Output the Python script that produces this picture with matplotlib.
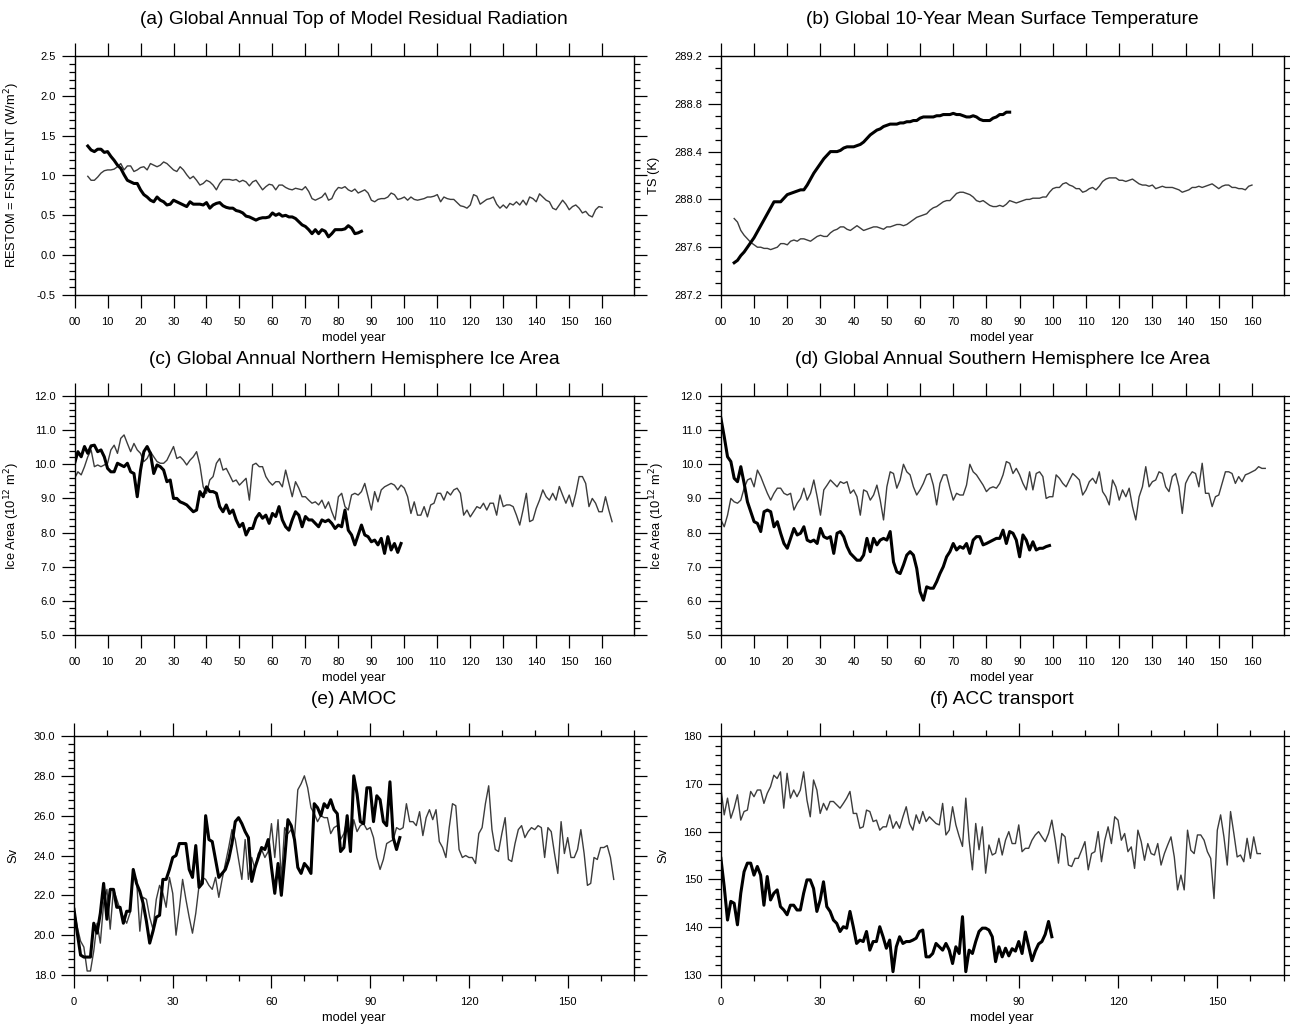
import numpy as np
import matplotlib
matplotlib.use('Agg')
import matplotlib.pyplot as plt
from matplotlib.ticker import MultipleLocator, FixedLocator, FormatStrFormatter

plt.rcParams['font.family'] = ['Liberation Sans', 'DejaVu Sans']

# ---- (a) top of model residual radiation, years 4..87 / 4..160
a_start = 4
a_thick = [1.37, 1.32, 1.30, 1.33, 1.33, 1.29,
           1.30, 1.24, 1.19, 1.13, 1.09, 1.01, 0.94, 0.92, 0.90, 0.90,
           0.82, 0.76, 0.73, 0.69, 0.67, 0.73, 0.69, 0.67, 0.63, 0.64,
           0.69, 0.67, 0.65, 0.63, 0.61, 0.67, 0.64, 0.64, 0.64, 0.63,
           0.66, 0.59, 0.63, 0.65, 0.66, 0.62, 0.60, 0.59, 0.59, 0.56,
           0.55, 0.53, 0.49, 0.48, 0.46, 0.44, 0.46, 0.47, 0.47, 0.48,
           0.53, 0.50, 0.52, 0.49, 0.50, 0.48, 0.48, 0.46, 0.42, 0.38,
           0.36, 0.32, 0.27, 0.32, 0.27, 0.32, 0.30, 0.23, 0.27, 0.32,
           0.32, 0.32, 0.33, 0.37, 0.34, 0.27, 0.28, 0.30]
a_thin = [0.99, 0.94, 0.94, 0.98, 1.03, 1.06,
          1.07, 1.07, 1.08, 1.11, 1.15, 1.07, 1.12, 1.12, 1.05, 1.07,
          1.10, 1.11, 1.07, 1.15, 1.13, 1.11, 1.13, 1.17, 1.15, 1.11,
          1.07, 1.05, 1.11, 1.07, 1.01, 0.96, 0.99, 0.94, 0.88, 0.90,
          0.94, 0.92, 0.88, 0.82, 0.90, 0.95, 0.95, 0.95, 0.94, 0.95,
          0.92, 0.94, 0.92, 0.87, 0.92, 0.94, 0.88, 0.82, 0.86, 0.89,
          0.88, 0.82, 0.88, 0.88, 0.85, 0.83, 0.82, 0.84, 0.83, 0.82,
          0.86, 0.80, 0.71, 0.69, 0.71, 0.73, 0.78, 0.69, 0.71, 0.80,
          0.85, 0.84, 0.86, 0.82, 0.80, 0.83, 0.78, 0.80, 0.82, 0.78,
          0.69, 0.67, 0.70, 0.71, 0.71, 0.73, 0.78, 0.76, 0.70, 0.71,
          0.73, 0.69, 0.73, 0.70, 0.69, 0.70, 0.71, 0.73, 0.73, 0.74,
          0.76, 0.67, 0.73, 0.71, 0.70, 0.70, 0.66, 0.62, 0.61, 0.59,
          0.63, 0.76, 0.74, 0.64, 0.67, 0.70, 0.71, 0.73, 0.64, 0.59,
          0.63, 0.59, 0.65, 0.63, 0.67, 0.63, 0.69, 0.63, 0.73, 0.71,
          0.67, 0.77, 0.73, 0.69, 0.67, 0.59, 0.57, 0.63, 0.69, 0.64,
          0.57, 0.61, 0.63, 0.59, 0.53, 0.55, 0.50, 0.48, 0.57, 0.61, 0.60]

# ---- (b) 10-year mean surface temperature
b_start = 4
b_thick = [287.47, 287.49, 287.53, 287.56, 287.60, 287.64,
           287.68, 287.73, 287.78, 287.83, 287.88, 287.93, 287.98, 287.98, 287.98, 288.01,
           288.04, 288.05, 288.06, 288.07, 288.08, 288.08, 288.12, 288.17, 288.22, 288.26,
           288.30, 288.34, 288.37, 288.40, 288.40, 288.40, 288.41, 288.43, 288.44, 288.44,
           288.44, 288.45, 288.46, 288.48, 288.51, 288.54, 288.56, 288.58, 288.59, 288.61,
           288.62, 288.63, 288.63, 288.63, 288.64, 288.64, 288.65, 288.65, 288.66, 288.66,
           288.68, 288.69, 288.69, 288.69, 288.69, 288.70, 288.70, 288.71, 288.71, 288.71,
           288.72, 288.71, 288.71, 288.70, 288.69, 288.69, 288.70, 288.69, 288.67, 288.66,
           288.66, 288.66, 288.68, 288.69, 288.71, 288.71, 288.73, 288.73]
b_thin = [287.84, 287.81, 287.74, 287.70, 287.67, 287.64,
          287.62, 287.60, 287.60, 287.59, 287.59, 287.58, 287.59, 287.60, 287.63, 287.63,
          287.62, 287.65, 287.66, 287.65, 287.67, 287.67, 287.66, 287.65, 287.67, 287.69,
          287.70, 287.69, 287.69, 287.72, 287.74, 287.75, 287.77, 287.77, 287.75, 287.74,
          287.76, 287.78, 287.76, 287.74, 287.75, 287.76, 287.77, 287.77, 287.76, 287.75,
          287.77, 287.77, 287.78, 287.79, 287.79, 287.78, 287.79, 287.81, 287.83, 287.85,
          287.86, 287.87, 287.88, 287.91, 287.93, 287.94, 287.96, 287.98, 287.99, 287.99,
          288.02, 288.05, 288.06, 288.06, 288.05, 288.04, 288.02, 287.99, 287.98, 287.99,
          287.97, 287.95, 287.94, 287.94, 287.95, 287.94, 287.96, 287.99, 287.98, 287.97,
          287.98, 287.99, 288.00, 288.00, 288.01, 288.01, 288.01, 288.02, 288.02, 288.06,
          288.09, 288.10, 288.10, 288.13, 288.14, 288.12, 288.11, 288.09, 288.09, 288.06,
          288.07, 288.09, 288.10, 288.08, 288.11, 288.15, 288.17, 288.18, 288.18, 288.18,
          288.16, 288.16, 288.15, 288.16, 288.17, 288.15, 288.13, 288.12, 288.12, 288.11,
          288.12, 288.09, 288.10, 288.11, 288.10, 288.10, 288.10, 288.09, 288.08, 288.06,
          288.07, 288.08, 288.10, 288.10, 288.11, 288.10, 288.11, 288.12, 288.13, 288.11,
          288.09, 288.11, 288.12, 288.12, 288.10, 288.10, 288.09, 288.09, 288.08, 288.11, 288.12]

# ---- (c) NH ice area
c_thick = [10.03, 10.37, 10.22, 10.52, 10.32, 10.54, 10.56, 10.37, 10.42, 10.22,
           9.88, 9.78, 9.78, 10.03, 9.98, 9.93, 10.03, 9.78, 9.73, 9.05,
           9.83, 10.37, 10.52, 10.32, 9.73, 9.98, 9.93, 9.83, 9.49, 9.54,
           9.00, 9.00, 8.90, 8.86, 8.81, 8.71, 8.61, 8.66, 9.20, 9.05,
           9.34, 9.20, 9.20, 9.15, 8.76, 8.61, 8.81, 8.56, 8.66, 8.37,
           8.17, 8.27, 7.93, 8.12, 8.12, 8.42, 8.56, 8.42, 8.51, 8.27,
           8.56, 8.47, 8.76, 8.37, 8.17, 8.07, 8.37, 8.61, 8.51, 8.17,
           8.47, 8.37, 8.37, 8.27, 8.17, 8.37, 8.32, 8.37, 8.27, 8.12,
           8.22, 8.17, 8.66, 8.07, 7.93, 7.64, 7.93, 8.22, 7.93, 7.88,
           7.73, 7.78, 7.64, 7.83, 7.39, 7.88, 7.49, 7.68, 7.42, 7.68]
c_thin = [9.59, 9.78, 9.69, 9.93, 10.22, 10.42, 9.93, 9.98, 9.93, 9.98,
          10.03, 10.42, 10.56, 10.32, 10.76, 10.86, 10.61, 10.37, 10.61, 10.42,
          10.32, 10.08, 10.17, 10.37, 10.22, 10.08, 10.03, 10.03, 10.12, 10.32,
          10.52, 10.17, 10.22, 10.12, 9.98, 10.12, 10.22, 10.37, 9.98, 9.34,
          9.15, 9.54, 9.64, 10.03, 10.17, 9.83, 9.88, 9.69, 9.49, 9.54,
          9.39, 9.49, 9.59, 8.95, 9.98, 10.03, 9.93, 9.93, 9.64, 9.49,
          9.39, 9.49, 9.49, 9.34, 9.83, 9.44, 9.05, 9.49, 9.30, 9.05,
          9.05, 8.95, 8.86, 8.90, 8.81, 8.95, 8.71, 8.90, 8.61, 8.37,
          9.05, 9.15, 8.76, 8.66, 9.10, 9.15, 9.10, 9.20, 9.44, 9.05,
          8.66, 9.20, 8.90, 9.25, 9.34, 9.39, 9.44, 9.39, 9.25, 9.39,
          9.30, 9.05, 8.56, 8.90, 8.51, 8.51, 8.76, 8.46, 8.81, 8.86,
          9.15, 9.15, 8.95, 9.20, 9.10, 9.25, 9.30, 9.15, 8.51, 8.66,
          8.46, 8.61, 8.76, 8.71, 8.86, 8.66, 8.86, 8.86, 8.51, 9.10,
          8.76, 8.81, 8.81, 8.76, 8.51, 8.22, 8.66, 9.15, 8.32, 8.37,
          8.71, 8.95, 9.25, 9.05, 8.95, 9.15, 8.95, 9.35, 9.10, 8.86,
          9.10, 8.76, 9.15, 9.64, 9.64, 9.44, 8.76, 9.00, 8.86, 8.61,
          8.61, 9.05, 8.66, 8.32]

# ---- (d) SH ice area
d_thick = [11.35, 10.81, 10.22, 10.08, 9.59, 9.49, 9.93, 9.44, 8.90, 8.61,
           8.32, 8.27, 8.03, 8.61, 8.66, 8.61, 8.17, 8.32, 7.98, 7.68,
           7.54, 7.83, 8.12, 7.93, 7.98, 8.17, 7.78, 7.73, 7.78, 7.68,
           8.12, 7.88, 7.83, 7.88, 7.39, 7.98, 8.03, 7.88, 7.59, 7.39,
           7.29, 7.19, 7.19, 7.34, 7.83, 7.44, 7.83, 7.64, 7.78, 7.83,
           7.78, 8.03, 7.14, 6.85, 6.80, 7.05, 7.34, 7.44, 7.34, 6.95,
           6.27, 6.02, 6.41, 6.37, 6.37, 6.56, 6.80, 7.00, 7.29, 7.44,
           7.68, 7.49, 7.59, 7.54, 7.68, 7.39, 7.78, 7.88, 7.88, 7.64,
           7.68, 7.73, 7.78, 7.83, 7.83, 8.07, 7.68, 8.03, 7.98, 7.78,
           7.29, 7.93, 7.78, 7.49, 7.73, 7.49, 7.54, 7.54, 7.59, 7.62]
d_thin = [8.37, 8.17, 8.51, 9.00, 8.90, 8.86, 8.95, 9.30, 9.54, 9.59,
          9.34, 9.83, 9.64, 9.39, 9.15, 8.95, 9.15, 9.30, 9.30, 9.15,
          9.10, 9.15, 8.66, 8.86, 9.00, 9.30, 8.95, 9.15, 9.54, 9.05,
          8.51, 9.25, 9.39, 9.54, 9.44, 9.34, 9.49, 9.44, 9.49, 9.15,
          9.25, 9.05, 8.51, 9.25, 9.20, 8.95, 9.10, 9.39, 8.95, 8.37,
          9.34, 9.78, 9.73, 9.30, 9.54, 10.00, 9.78, 9.69, 9.34, 9.10,
          9.25, 9.44, 9.69, 9.73, 9.39, 8.81, 9.44, 9.69, 9.69, 9.30,
          8.95, 9.15, 9.10, 9.10, 9.39, 10.00, 9.78, 9.69, 9.54, 9.39,
          9.20, 9.30, 9.34, 9.30, 9.44, 9.69, 10.08, 10.03, 9.73, 9.88,
          9.69, 9.44, 9.25, 9.78, 9.25, 9.73, 9.78, 9.64, 9.00, 9.05,
          9.05, 9.69, 9.59, 9.44, 9.34, 9.54, 9.73, 9.64, 9.54, 9.10,
          9.25, 9.49, 9.59, 9.44, 9.78, 9.20, 9.05, 8.81, 9.54, 9.34,
          8.95, 9.25, 9.05, 9.30, 8.76, 8.37, 9.05, 9.34, 9.93, 9.34,
          9.49, 9.54, 9.78, 9.73, 9.34, 9.20, 9.64, 9.73, 9.34, 8.56,
          9.44, 9.64, 9.78, 9.73, 9.34, 10.03, 9.15, 9.15, 8.76, 9.05,
          9.10, 9.44, 9.78, 9.78, 9.73, 9.44, 9.64, 9.49, 9.69, 9.73,
          9.78, 9.83, 9.93, 9.88, 9.88]

# ---- (e) AMOC
e_thick = [21.3, 20.1, 19.0, 18.9, 18.9, 18.9, 20.6, 20.1, 21.1, 22.6,
           20.8, 22.3, 22.3, 21.4, 21.4, 20.6, 21.2, 21.2, 23.3, 22.6,
           22.2, 21.6, 20.7, 19.6, 20.2, 20.9, 21.0, 22.8, 22.8, 23.3,
           23.9, 24.0, 24.6, 24.6, 24.6, 23.3, 22.9, 24.5, 22.4, 22.6,
           26.0, 24.8, 24.7, 23.8, 22.9, 23.1, 23.3, 23.8, 24.6, 25.7,
           25.9, 25.6, 25.2, 24.9, 22.7, 23.4, 23.9, 24.4, 24.3, 24.8,
           23.4, 22.1, 23.6, 22.0, 23.8, 25.8, 25.5, 24.8, 23.4, 23.1,
           23.6, 23.4, 23.1, 26.6, 26.4, 26.0, 26.6, 26.4, 26.8, 26.3,
           26.1, 24.2, 24.4, 26.0, 24.2, 28.0, 27.1, 25.7, 25.6, 27.4,
           27.4, 25.7, 27.0, 26.8, 25.7, 25.5, 27.7, 24.9, 24.3, 24.9]
e_thin = [21.3, 20.4, 19.7, 19.4, 18.2, 18.2, 19.2, 20.6, 19.6, 21.6,
          22.3, 20.3, 22.3, 21.8, 21.3, 20.9, 20.6, 21.1, 23.0, 22.8,
          20.2, 21.9, 21.8, 20.9, 20.3, 21.8, 22.5, 22.1, 21.4, 22.9,
          22.1, 20.0, 21.3, 22.8, 21.8, 20.9, 20.1, 21.1, 22.5, 22.9,
          22.8, 22.5, 22.3, 22.9, 21.9, 22.8, 23.6, 24.4, 25.3, 24.8,
          23.8, 22.8, 24.8, 22.8, 23.9, 23.3, 24.1, 24.3, 23.9, 24.2,
          25.6, 23.9, 25.8, 22.8, 25.4, 25.1, 25.3, 24.9, 27.3, 27.6,
          28.0, 27.4, 26.4, 26.1, 25.7, 26.0, 25.9, 25.9, 25.1, 25.4,
          25.5, 24.8, 25.1, 25.8, 24.4, 25.8, 25.2, 25.5, 25.6, 25.3,
          25.4, 24.9, 23.9, 23.3, 23.8, 24.6, 24.7, 24.8, 25.4, 25.3,
          25.4, 26.6, 25.7, 25.7, 25.5, 26.2, 25.0, 25.9, 26.3, 25.8,
          26.3, 24.7, 24.4, 23.9, 25.4, 26.6, 26.5, 24.3, 23.9, 24.0,
          23.9, 23.9, 23.6, 25.1, 25.4, 26.6, 27.5, 25.3, 24.3, 24.2,
          25.1, 25.9, 23.8, 23.7, 24.6, 25.3, 25.5, 24.9, 25.2, 25.4,
          25.3, 25.5, 25.4, 23.9, 25.4, 25.2, 24.1, 23.1, 25.7, 24.1,
          24.9, 23.9, 23.9, 24.3, 25.3, 24.1, 22.5, 22.6, 23.9, 23.8,
          24.4, 24.4, 24.5, 23.9, 22.8]

# ---- (f) ACC transport
f_thick = [154.4, 148.5, 141.5, 145.4, 145.0, 140.5, 147.1, 151.6, 153.4, 153.4,
           150.9, 152.7, 150.9, 144.6, 150.6, 145.7, 147.1, 147.8, 144.3, 143.6,
           142.6, 144.6, 144.6, 143.6, 143.6, 147.1, 149.9, 149.9, 148.1, 143.3,
           145.7, 149.5, 144.3, 143.3, 141.5, 140.8, 139.1, 140.1, 139.8, 143.3,
           140.1, 136.6, 137.3, 137.0, 139.1, 135.2, 137.0, 137.0, 140.1, 138.0,
           135.6, 137.3, 130.7, 135.9, 138.0, 136.6, 137.0, 137.0, 137.3, 137.7,
           139.1, 139.4, 133.8, 133.8, 134.5, 136.6, 135.9, 135.2, 136.6, 135.2,
           132.4, 135.9, 134.5, 142.2, 130.7, 135.2, 134.5, 137.0, 139.1, 139.8,
           139.8, 139.4, 138.0, 132.8, 135.9, 133.8, 135.6, 134.0, 135.5, 135.0,
           137.0, 134.5, 139.0, 136.0, 133.0, 135.0, 136.5, 137.0, 138.5, 141.2, 138.0]
f_thin = [169.1, 163.5, 167.0, 162.8, 164.9, 167.7, 162.4, 164.2, 164.5, 168.4,
          167.3, 168.7, 168.7, 165.9, 168.0, 169.4, 171.8, 171.1, 172.5, 164.9,
          172.2, 167.0, 168.7, 167.3, 168.7, 172.5, 166.6, 163.1, 170.8, 168.7,
          163.8, 165.9, 164.5, 166.3, 166.3, 165.6, 164.9, 165.9, 167.0, 168.4,
          163.8, 163.8, 160.7, 161.0, 164.5, 164.2, 162.1, 162.4, 160.3, 161.0,
          161.0, 163.5, 160.7, 162.1, 160.7, 163.1, 165.2, 161.7, 160.3, 163.5,
          161.7, 164.2, 162.1, 163.1, 162.4, 161.7, 161.4, 165.9, 159.3, 160.3,
          165.2, 161.4, 159.0, 156.9, 167.0, 158.2, 152.0, 161.7, 156.2, 161.0,
          151.3, 157.2, 155.1, 155.5, 158.6, 155.1,
          158.2, 160.0, 157.5, 157.5, 161.4, 155.8, 156.5, 156.5, 158.2, 159.3,
          160.0, 158.9, 157.9, 159.6, 162.4, 158.2, 153.4, 159.6, 158.9, 153.0,
          152.7, 154.4, 154.4, 156.1, 157.9, 152.0, 155.4, 155.8, 160.0, 153.7,
          158.2, 161.0, 157.5, 163.1, 162.4, 158.2, 159.6, 155.8, 156.8, 152.3,
          160.3, 157.9, 154.0, 157.5, 155.4, 155.1, 157.5, 153.0, 155.4, 157.2,
          158.9, 154.7, 147.8, 150.9, 147.8, 160.3, 156.1, 155.4, 159.3, 159.3,
          158.2, 155.8, 154.4, 146.0, 160.3, 163.5, 158.9, 153.0, 164.2, 159.6,
          154.7, 155.1, 153.7, 158.6, 154.4, 158.9, 155.4, 155.4]

year_ticks_10 = list(range(0, 161, 10))
year_labels_10 = ['00', '10', '20', '30', '40', '50', '60', '70', '80', '90',
                  '100', '110', '120', '130', '140', '150', '160']
year_ticks_30 = [0, 30, 60, 90, 120, 150]
year_labels_30 = ['0', '30', '60', '90', '120', '150']

titles = ['(a) Global Annual Top of Model Residual Radiation',
          '(b) Global 10-Year Mean Surface Temperature',
          '(c) Global Annual Northern Hemisphere Ice Area',
          '(d) Global Annual Southern Hemisphere Ice Area',
          '(e) AMOC',
          '(f) ACC transport']

W, H = 1290, 1025
fig = plt.figure(figsize=(W / 100, H / 100), dpi=100)


def add_axes(x0, y0, x1, y1):
    return fig.add_axes([x0 / W, 1 - y1 / H, (x1 - x0) / W, (y1 - y0) / H])


def style(ax, ylim, ymaj, ymin, yfmt, ylabel, ylab_off, title, long_years):
    ax.set_ylim(*ylim)
    ax.yaxis.set_major_locator(MultipleLocator(ymaj))
    ax.yaxis.set_minor_locator(MultipleLocator(ymin))
    ax.yaxis.set_major_formatter(FormatStrFormatter(yfmt))
    if long_years:
        ax.set_xlim(0, 169.5)
        ax.xaxis.set_major_locator(FixedLocator(year_ticks_10))
        ax.set_xticklabels(year_labels_10)
    else:
        ax.set_xlim(0, 170)
        ax.xaxis.set_major_locator(FixedLocator(year_ticks_30))
        ax.xaxis.set_minor_locator(MultipleLocator(10))
        ax.set_xticklabels(year_labels_30)
    ax.tick_params(which='both', direction='out', top=True, right=True, width=0.9)
    ax.tick_params(which='major', length=9.5, labelsize=8)
    ax.tick_params(axis='y', which='major', pad=4)
    ax.tick_params(axis='x', which='major', pad=6)
    ax.tick_params(which='minor', length=4.5)
    for sp in ax.spines.values():
        sp.set_linewidth(1.0)
    ax.set_xlabel('model year', fontsize=9.3, labelpad=4)
    w = ax.get_position().width * W
    ax.set_ylabel(ylabel, fontsize=9.3)
    ax.yaxis.set_label_coords(-ylab_off / w, 0.5)
    ax.text(0.5, 1 + 36 / 239, title, transform=ax.transAxes, ha='center',
            va='center', fontsize=13.8)


thick_kw = dict(color='black', lw=2.2)
thin_kw = dict(color='#3c3c3c', lw=1.0)

ax = add_axes(74.6, 56, 633.5, 295)
ax.plot(np.arange(len(a_thin)) + a_start, a_thin, **thin_kw)
ax.plot(np.arange(len(a_thick)) + a_start, a_thick, **thick_kw)
style(ax, (-0.5, 2.5), 0.5, 0.1, '%.1f', 'RESTOM = FSNT-FLNT (W/m$^2$)', 53, titles[0], True)

ax = add_axes(720.9, 56, 1283.5, 295)
ax.plot(np.arange(len(b_thin)) + b_start, b_thin, **thin_kw)
ax.plot(np.arange(len(b_thick)) + b_start, b_thick, **thick_kw)
style(ax, (287.2, 289.2), 0.4, 0.1, '%.1f', 'TS (K)', 61, titles[1], True)

ax = add_axes(74.6, 396, 633.5, 635)
ax.plot(np.arange(len(c_thin)), c_thin, **thin_kw)
ax.plot(np.arange(len(c_thick)), c_thick, **thick_kw)
style(ax, (5.0, 12.0), 1.0, 0.2, '%.1f', 'Ice Area (10$^{12}$ m$^2$)', 53, titles[2], True)

ax = add_axes(720.9, 396, 1283.5, 635)
ax.plot(np.arange(len(d_thin)), d_thin, **thin_kw)
ax.plot(np.arange(len(d_thick)), d_thick, **thick_kw)
style(ax, (5.0, 12.0), 1.0, 0.2, '%.1f', 'Ice Area (10$^{12}$ m$^2$)', 54, titles[3], True)

ax = add_axes(74.0, 736, 633.5, 975)
ax.plot(np.arange(len(e_thin)), e_thin, **thin_kw)
ax.plot(np.arange(len(e_thick)), e_thick, **thick_kw)
style(ax, (18.0, 30.0), 2.0, 0.4, '%.1f', 'Sv', 55, titles[4], False)

ax = add_axes(720.9, 736, 1283.5, 975)
ax.plot(np.arange(len(f_thin)), f_thin, **thin_kw)
ax.plot(np.arange(len(f_thick)), f_thick, **thick_kw)
style(ax, (130, 180), 10, 2, '%d', 'Sv', 51, titles[5], False)

fig.savefig('out.png', dpi=100)
